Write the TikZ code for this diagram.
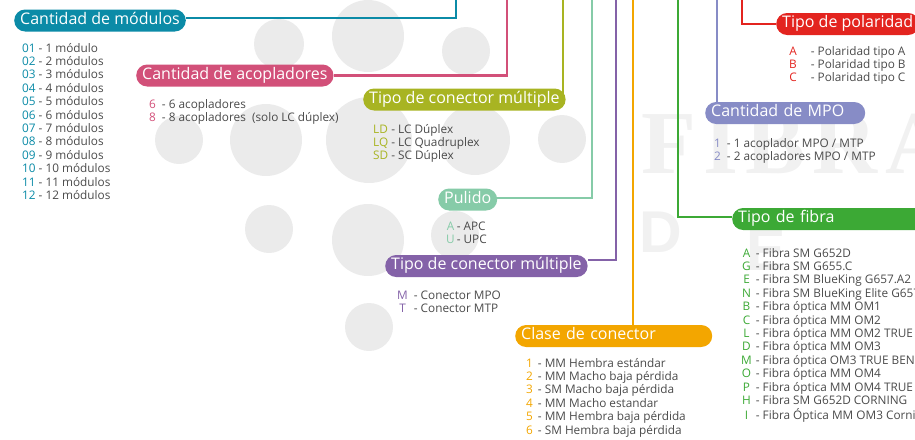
\documentclass[tikz,border=0pt]{standalone}
\usepackage{fontspec,array}
\setmainfont{Open Sans}
\newfontfamily\wmserif[LetterSpace=8]{Liberation Serif}
\newfontfamily\wmsans{Liberation Sans}
\usetikzlibrary{positioning,calc}
\definecolor{Mod}{HTML}{0B8BA7}
\definecolor{Aco}{HTML}{D25079}
\definecolor{Oli}{HTML}{A8B422}
\definecolor{Pul}{HTML}{86CBA8}
\definecolor{Pur}{HTML}{8462A8}
\definecolor{Ora}{HTML}{F3A600}
\definecolor{Fib}{HTML}{3CA935}
\definecolor{Lav}{HTML}{878CC6}
\definecolor{Pol}{HTML}{E3241F}
\definecolor{Txt}{HTML}{4A4A4A}
\definecolor{Dot}{HTML}{EBEBEB}
\definecolor{Wm}{HTML}{F1F1F1}
\pgfdeclarelayer{back}\pgfdeclarelayer{mid}\pgfsetlayers{back,mid,main}
\tikzset{pill/.style={fill=#1,rounded corners=11pt,minimum height=22pt,inner xsep=6pt,inner ysep=0pt,text height=11.5pt,text depth=4pt,text=white,font=\fontsize{16}{16}\selectfont,anchor=west},lst/.style={anchor=base west,inner sep=0pt,font=\fontsize{11.8}{13.4}\selectfont,text=Txt},wire/.style={line width=2.4pt,draw=#1},dot/.style={fill=Dot},wm/.style={text=Wm,inner sep=0pt,anchor=base west}}

\begin{document}
\begin{tikzpicture}[x=1pt,y=-1pt]
\clip (0,0) rectangle (915,439);
% labels
\node[pill=Mod] (modulos) at (14,20.5) {Cantidad de módulos};
\node[pill=Aco] (acopladores) at (136,75.5) {Cantidad de acopladores};
\node[pill=Oli] (cmult) at (363,99.5) {Tipo de conector múltiple};
\node[pill=Pul] (pulido) at (438,199.5) {Pulido};
\node[pill=Pur] (conmult) at (385,266) {Tipo de conector múltiple};
\node[pill=Ora,text width=185pt,align=left] (clase) at (515,336) {Clase de conector};
\node[pill=Fib,text width=230pt,align=left] (fibra) at (732,219) {Tipo de fibra};
\node[pill=Lav,text width=148pt,align=left] (mpo) at (705,113) {Cantidad de MPO};
\node[pill=Pol] (polaridad) at (776,24) {Tipo de polaridad};
% lists
\node[lst] (modlist) at (22,52) {\begin{tabular}[t]{@{}>{\color{Mod}}l@{\hspace{3pt}}l@{}}
01&- 1 módulo\\ 02&- 2 módulos\\ 03&- 3 módulos\\ 04&- 4 módulos\\ 05&- 5 módulos\\ 06&- 6 módulos\\
07&- 7 módulos\\ 08&- 8 módulos\\ 09&- 9 módulos\\ 10&- 10 módulos\\ 11&- 11 módulos\\ 12&- 12 módulos
\end{tabular}};
\node[lst] (acolist) at (149,108) {\begin{tabular}[t]{@{}>{\color{Aco}}l@{\hspace{6pt}}l@{}}
6&- 6 acopladores\\ 8&- 8 acopladores\ \ (solo LC dúplex)
\end{tabular}};
\node[lst] (cmlist) at (373,133) {\begin{tabular}[t]{@{}>{\color{Oli}}l@{\hspace{3pt}}l@{}}
LD&- LC Dúplex\\ LQ&- LC Quadruplex\\ SD&- SC Dúplex
\end{tabular}};
\node[lst] (pullist) at (446,230) {\begin{tabular}[t]{@{}>{\color{Pul}}c@{\hspace{2pt}}l@{}}
A&- APC\\ U&- UPC
\end{tabular}};
\node[lst] (conlist) at (397,299) {\begin{tabular}[t]{@{}>{\color{Pur}}c@{\hspace{6pt}}l@{}}
M&- Conector MPO\\ T&- Conector MTP
\end{tabular}};
\node[lst] (clalist) at (526,367) {\begin{tabular}[t]{@{}>{\color{Ora}}l@{\hspace{5pt}}l@{}}
1&- MM Hembra estándar\\ 2&- MM Macho baja pérdida\\ 3&- SM Macho baja pérdida\\
4&- MM Macho estandar\\ 5&- MM Hembra baja pérdida\\ 6&- SM Hembra baja pérdida
\end{tabular}};
\node[lst] (mpolist) at (714,147) {\begin{tabular}[t]{@{}>{\color{Lav}}l@{\hspace{6pt}}l@{}}
1&- 1 acoplador MPO / MTP\\ 2&- 2 acopladores MPO / MTP
\end{tabular}};
\node[lst] (pollist) at (789,55) {\begin{tabular}[t]{@{}>{\color{Pol}}c@{\hspace{14pt}}l@{}}
A&- Polaridad tipo A\\ B&- Polaridad tipo B\\ C&- Polaridad tipo C
\end{tabular}};
\node[lst] (fiblist) at (741,257) {\begin{tabular}[t]{@{}>{\color{Fib}}c@{\hspace{4pt}}l@{}}
A&- Fibra SM G652D\\ G&- Fibra SM G655.C\\ E&- Fibra SM BlueKing G657.A2\\
N&- Fibra SM BlueKing Elite G657.A2\\ B&- Fibra óptica MM OM1\\ C&- Fibra óptica MM OM2\\
L&- Fibra óptica MM OM2 TRUE BEND\\ D&- Fibra óptica MM OM3\\ M&- Fibra óptica OM3 TRUE BEND\\
O&- Fibra óptica MM OM4\\ P&- Fibra óptica MM OM4 TRUE BEND\\ H&- Fibra SM G652D CORNING\\
I&- Fibra Óptica MM OM3 Corning
\end{tabular}};
% connectors
\begin{pgfonlayer}{mid}
\coordinate (modtop) at (456,0);
\coordinate (acotop) at (507,0);
\coordinate (multop) at (563,0);
\coordinate (pultop) at (592,0);
\coordinate (contop) at (616,0);
\coordinate (clatop) at (633,0);
\coordinate (fibtop) at (678,0);
\coordinate (mpotop) at (717,0);
\coordinate (poltop) at (742,0);
\draw[wire=Mod] (modtop) |- ([yshift=2.5pt]modulos.east);
\draw[wire=Aco] (acotop) |- (acopladores.east);
\draw[wire=Oli] (multop) -- (multop |- cmult.center);
\draw[wire=Pul] (pultop) |- ([yshift=1.5pt]pulido.east);
\draw[wire=Pur] (contop) |- ([yshift=6pt]conmult.east);
\draw[wire=Ora] (clatop) -- (clatop |- clase.center);
\draw[wire=Fib] (fibtop) |- ([yshift=2pt]fibra.west);
\draw[wire=Lav] (mpotop) -- (mpotop |- mpo.center);
\draw[wire=Pol] (poltop) |- (polaridad.west);
\end{pgfonlayer}
% background
\begin{pgfonlayer}{back}
\foreach \x/\y/\r in {279/44/25,368/36/36,466/51/24,179/140/24,266/140/36,369/140/43,475/140/35,562/139/24,269/229/24,368/240/36,455/235/24,369/327/24}
  \fill[dot] (\x,\y) circle (\r pt);
\node[wm,font=\wmserif\bfseries\fontsize{90}{90}\selectfont] (wmfibra) at (641,173) {FIBRA};
\node[wm,font=\wmsans\bfseries\fontsize{59}{59}\selectfont] (wmd) at (639,252) {D};
\node[wm,font=\wmsans\bfseries\fontsize{59}{59}\selectfont] (wme) at (746,270) {E};
\end{pgfonlayer}
\end{tikzpicture}
\end{document}
